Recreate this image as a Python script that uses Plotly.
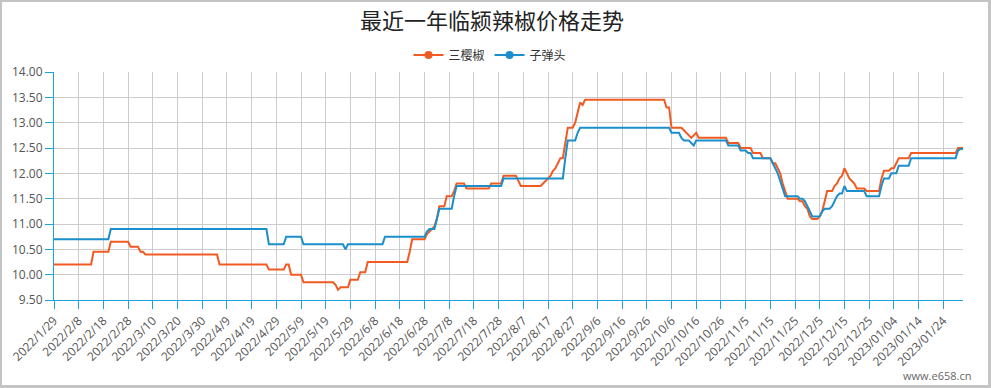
import datetime as dt
import plotly.graph_objects as go

# ---------------- data ----------------
title_text = "最近一年临颍辣椒价格走势"
series_names = ["三樱椒", "子弹头"]
series_colors = ["#F15A22", "#1A8FCB"]

start = dt.date(2022, 1, 29)
n_days = 369
dates = []
for i in range(n_days):
    d = start + dt.timedelta(days=i)
    if d.year == 2022:
        dates.append(f"{d.year}/{d.month}/{d.day}")
    else:
        dates.append(f"{d.year}/{d.month:02d}/{d.day:02d}")

sanyingjiao = [
    10.2, 10.2, 10.2, 10.2, 10.2, 10.2, 10.2, 10.2, 10.2, 10.2,           # 0-9
    10.2, 10.2, 10.2, 10.2, 10.2, 10.2,                                   # 10-15
    10.45, 10.45, 10.45, 10.45, 10.45, 10.45, 10.45,                      # 16-22
    10.65, 10.65, 10.65, 10.65, 10.65, 10.65, 10.65, 10.65,               # 23-30
    10.55, 10.55, 10.55, 10.55, 10.45, 10.45,                             # 31-36
    10.4, 10.4, 10.4, 10.4, 10.4, 10.4, 10.4, 10.4, 10.4, 10.4,           # 37-46
    10.4, 10.4, 10.4, 10.4, 10.4, 10.4, 10.4, 10.4, 10.4, 10.4,           # 47-56
    10.4, 10.4, 10.4, 10.4, 10.4, 10.4, 10.4, 10.4, 10.4, 10.4,           # 57-66
    10.2, 10.2, 10.2, 10.2, 10.2, 10.2, 10.2, 10.2, 10.2, 10.2,           # 67-76
    10.2, 10.2, 10.2, 10.2, 10.2, 10.2, 10.2, 10.2, 10.2, 10.2,           # 77-86
    10.1, 10.1, 10.1, 10.1, 10.1, 10.1, 10.1,                             # 87-93
    10.2, 10.2, 10.0, 10.0, 10.0, 10.0, 10.0,                             # 94-100
    9.85, 9.85, 9.85, 9.85, 9.85, 9.85, 9.85, 9.85, 9.85, 9.85,           # 101-110
    9.85, 9.85, 9.85,                                                     # 111-113
    9.8, 9.7, 9.75, 9.75, 9.75, 9.75,                                     # 114-119
    9.9, 9.9, 9.9, 9.9, 10.05, 10.05, 10.05,                              # 120-126
    10.25, 10.25, 10.25, 10.25, 10.25, 10.25, 10.25, 10.25, 10.25, 10.25, # 127-136
    10.25, 10.25, 10.25, 10.25, 10.25, 10.25, 10.25,                      # 137-143
    10.45, 10.7, 10.7, 10.7, 10.7, 10.7, 10.7,                            # 144-150
    10.8, 10.85, 10.9, 10.95, 11.1, 11.35, 11.35, 11.35,                  # 151-158
    11.55, 11.55, 11.55, 11.65, 11.8, 11.8, 11.8, 11.8,                   # 159-166
    11.7, 11.7, 11.7, 11.7, 11.7, 11.7, 11.7, 11.7, 11.7, 11.7,           # 167-176
    11.8, 11.8, 11.8, 11.8, 11.8,                                         # 177-181
    11.95, 11.95, 11.95, 11.95, 11.95, 11.95, 11.85,                      # 182-188
    11.75, 11.75, 11.75, 11.75, 11.75, 11.75, 11.75, 11.75, 11.75,        # 189-197
    11.8, 11.85, 11.9, 11.95, 12.05, 12.1, 12.2, 12.3, 12.3,              # 198-206
    12.6, 12.9, 12.9, 12.9, 13.0, 13.2, 13.4, 13.35,                      # 207-214
    13.45, 13.45, 13.45, 13.45, 13.45, 13.45, 13.45, 13.45, 13.45, 13.45, # 215-224
    13.45, 13.45, 13.45, 13.45, 13.45, 13.45, 13.45, 13.45, 13.45, 13.45, # 225-234
    13.45, 13.45, 13.45, 13.45, 13.45, 13.45, 13.45, 13.45, 13.45, 13.45, # 235-244
    13.45, 13.45, 13.45,                                                  # 245-247
    13.3, 13.3, 12.9, 12.9, 12.9, 12.9, 12.9,                             # 248-254
    12.85, 12.8, 12.75, 12.7, 12.75, 12.8,                                # 255-260
    12.7, 12.7, 12.7, 12.7, 12.7, 12.7, 12.7, 12.7, 12.7, 12.7,           # 261-270
    12.7, 12.7,                                                           # 271-272
    12.6, 12.6, 12.6, 12.6, 12.6,                                         # 273-277
    12.5, 12.5, 12.5, 12.5, 12.5,                                         # 278-282
    12.4, 12.4, 12.4, 12.4, 12.3, 12.3, 12.3, 12.3,                       # 283-290
    12.2, 12.2, 12.1, 12.0, 11.8, 11.65,                                  # 291-296
    11.5, 11.5, 11.5, 11.5, 11.5,                                         # 297-301
    11.45, 11.45, 11.35, 11.3, 11.15, 11.1, 11.1, 11.1,                   # 302-309
    11.15, 11.25, 11.45, 11.65, 11.65, 11.65,                             # 310-315
    11.75, 11.8, 11.9, 11.95, 12.1, 12.0, 11.9, 11.85, 11.8,              # 316-324
    11.7, 11.7, 11.7, 11.7,                                               # 325-328
    11.65, 11.65, 11.65, 11.65, 11.65, 11.65,                             # 329-334
    11.9, 12.05, 12.05, 12.05, 12.1, 12.1, 12.2,                          # 335-341
    12.3, 12.3, 12.3, 12.3, 12.3,                                         # 342-346
    12.4, 12.4, 12.4, 12.4, 12.4, 12.4, 12.4, 12.4, 12.4, 12.4,           # 347-356
    12.4, 12.4, 12.4, 12.4, 12.4, 12.4, 12.4, 12.4, 12.4,                 # 357-365
    12.5, 12.5, 12.5,                                                     # 366-368
]

zidantou = [
    10.7, 10.7, 10.7, 10.7, 10.7, 10.7, 10.7, 10.7, 10.7, 10.7,           # 0-9
    10.7, 10.7, 10.7, 10.7, 10.7, 10.7, 10.7, 10.7, 10.7, 10.7,           # 10-19
    10.7, 10.7, 10.7,                                                     # 20-22
    10.9, 10.9, 10.9, 10.9, 10.9, 10.9, 10.9, 10.9, 10.9, 10.9,           # 23-32
    10.9, 10.9, 10.9, 10.9, 10.9, 10.9, 10.9, 10.9, 10.9, 10.9,           # 33-42
    10.9, 10.9, 10.9, 10.9, 10.9, 10.9, 10.9, 10.9, 10.9, 10.9,           # 43-52
    10.9, 10.9, 10.9, 10.9, 10.9, 10.9, 10.9, 10.9, 10.9, 10.9,           # 53-62
    10.9, 10.9, 10.9, 10.9, 10.9, 10.9, 10.9, 10.9, 10.9, 10.9,           # 63-72
    10.9, 10.9, 10.9, 10.9, 10.9, 10.9, 10.9, 10.9, 10.9, 10.9,           # 73-82
    10.9, 10.9, 10.9, 10.9,                                               # 83-86
    10.6, 10.6, 10.6, 10.6, 10.6, 10.6, 10.6,                             # 87-93
    10.75, 10.75, 10.75, 10.75, 10.75, 10.75, 10.75,                      # 94-100
    10.6, 10.6, 10.6, 10.6, 10.6, 10.6, 10.6, 10.6, 10.6, 10.6,           # 101-110
    10.6, 10.6, 10.6, 10.6, 10.6, 10.6, 10.6,                             # 111-117
    10.5,                                                                 # 118
    10.6, 10.6, 10.6, 10.6, 10.6, 10.6, 10.6, 10.6, 10.6, 10.6,           # 119-128
    10.6, 10.6, 10.6, 10.6, 10.6,                                         # 129-133
    10.75, 10.75, 10.75, 10.75, 10.75, 10.75, 10.75, 10.75, 10.75, 10.75, # 134-143
    10.75, 10.75, 10.75, 10.75, 10.75, 10.75, 10.75,                      # 144-150
    10.85, 10.9, 10.9, 10.9, 11.1,                                        # 151-155
    11.3, 11.3, 11.3, 11.3, 11.3, 11.3, 11.55,                            # 156-162
    11.75, 11.75, 11.75, 11.75, 11.75, 11.75, 11.75, 11.75, 11.75, 11.75, # 163-172
    11.75, 11.75, 11.75, 11.75, 11.75, 11.75, 11.75, 11.75, 11.75,        # 173-181
    11.9, 11.9, 11.9, 11.9, 11.9, 11.9, 11.9, 11.9, 11.9, 11.9,           # 182-191
    11.9, 11.9, 11.9, 11.9, 11.9, 11.9, 11.9, 11.9, 11.9, 11.9,           # 192-201
    11.9, 11.9, 11.9, 11.9, 11.9,                                         # 202-206
    12.3, 12.65, 12.65, 12.65, 12.65, 12.8,                               # 207-212
    12.9, 12.9, 12.9, 12.9, 12.9, 12.9, 12.9, 12.9, 12.9, 12.9,           # 213-222
    12.9, 12.9, 12.9, 12.9, 12.9, 12.9, 12.9, 12.9, 12.9, 12.9,           # 223-232
    12.9, 12.9, 12.9, 12.9, 12.9, 12.9, 12.9, 12.9, 12.9, 12.9,           # 233-242
    12.9, 12.9, 12.9, 12.9, 12.9, 12.9, 12.9,                             # 243-249
    12.8, 12.8, 12.8, 12.8, 12.7, 12.65, 12.65, 12.65, 12.6, 12.55,       # 250-259
    12.65, 12.65, 12.65, 12.65, 12.65, 12.65, 12.65, 12.65, 12.65, 12.65, # 260-269
    12.65, 12.65, 12.65,                                                  # 270-272
    12.55, 12.55, 12.55, 12.55, 12.55,                                    # 273-277
    12.45, 12.45, 12.45, 12.4, 12.4,                                      # 278-282
    12.3, 12.3, 12.3, 12.3, 12.3, 12.3, 12.3, 12.3,                       # 283-290
    12.2, 12.1, 12.0, 11.85, 11.7,                                        # 291-295
    11.55, 11.55, 11.55, 11.55, 11.55, 11.55,                             # 296-301
    11.5, 11.5, 11.45, 11.35, 11.25,                                      # 302-306
    11.15, 11.15, 11.15, 11.15,                                           # 307-310
    11.25, 11.3, 11.3, 11.3, 11.35, 11.45, 11.55, 11.6, 11.6, 11.75,      # 311-320
    11.65, 11.65, 11.65, 11.65, 11.65, 11.65, 11.65, 11.65,               # 321-328
    11.55, 11.55, 11.55, 11.55, 11.55, 11.55,                             # 329-334
    11.75, 11.9, 11.9, 11.9, 12.0, 12.0, 12.0,                            # 335-341
    12.15, 12.15, 12.15, 12.15, 12.15,                                    # 342-346
    12.3, 12.3, 12.3, 12.3, 12.3, 12.3, 12.3, 12.3, 12.3, 12.3,           # 347-356
    12.3, 12.3, 12.3, 12.3, 12.3, 12.3, 12.3, 12.3, 12.3,                 # 357-365
    12.45, 12.48, 12.48,                                                  # 366-368
]

assert len(sanyingjiao) == n_days, len(sanyingjiao)
assert len(zidantou) == n_days, len(zidantou)

tick_labels = dates[::10]
watermark = "www.e658.cn"

# ---------------- layout geometry ----------------
W, H = 991, 388
L, R, T, B = 54, 28, 72, 88
pw, ph = W - L - R, H - T - B


def px_x(px):
    return (px - L) / pw


def px_y(py):
    return (H - B - py) / ph


axis_color = "#1BA3DE"
grid_color = "#CCCCCC"
label_color = "#555555"

fig = go.Figure()
for name, vals, col in zip(series_names, [sanyingjiao, zidantou], series_colors):
    fig.add_trace(go.Scatter(
        x=dates, y=vals, mode="lines", name=name, showlegend=False,
        line=dict(color=col, width=2), hoverinfo="x+y+name",
    ))
# legend entries (line with circle, like the original)
for name, col in zip(series_names, series_colors):
    fig.add_trace(go.Scatter(
        x=[None], y=[None], mode="lines+markers", name=name,
        line=dict(color=col, width=2), marker=dict(color=col, size=8),
    ))

border_col = "#C4C4C4"
shapes = [
    dict(type="rect", xref="paper", yref="paper", x0=px_x(0), x1=px_x(W), y0=px_y(0), y1=px_y(2),
         fillcolor=border_col, line=dict(width=0), layer="above"),
    dict(type="rect", xref="paper", yref="paper", x0=px_x(0), x1=px_x(W), y0=px_y(385), y1=px_y(H),
         fillcolor=border_col, line=dict(width=0), layer="above"),
    dict(type="rect", xref="paper", yref="paper", x0=px_x(0), x1=px_x(2), y0=px_y(0), y1=px_y(H),
         fillcolor=border_col, line=dict(width=0), layer="above"),
    dict(type="rect", xref="paper", yref="paper", x0=px_x(988), x1=px_x(W), y0=px_y(0), y1=px_y(H),
         fillcolor=border_col, line=dict(width=0), layer="above"),
]

fig.update_layout(
    width=W, height=H,
    margin=dict(l=L, r=R, t=T, b=B, autoexpand=False),
    paper_bgcolor="white", plot_bgcolor="white",
    title=dict(text=title_text, x=492 / W, xanchor="center", y=1 - 21 / H, yanchor="middle",
               font=dict(family="Noto Sans CJK SC", size=22, color="#222222")),
    legend=dict(orientation="h", x=px_x(490), xanchor="center", y=px_y(55), yanchor="middle",
                font=dict(family="Noto Sans CJK SC", size=12, color="#333333"),
                itemwidth=30, bgcolor="rgba(0,0,0,0)", traceorder="normal"),
    showlegend=True,
    shapes=shapes,
    annotations=[dict(text=watermark, xref="paper", yref="paper", x=px_x(973), xanchor="right",
                      y=px_y(375), yanchor="middle", showarrow=False,
                      font=dict(family="Open Sans", size=11, color="#666666"))],
    font=dict(family="Open Sans"),
)

fig.update_xaxes(
    type="category", range=[0, n_days - 1],
    tickmode="array", tickvals=tick_labels, ticktext=tick_labels,
    tickangle=-45, tickfont=dict(family="Open Sans", size=12, color=label_color),
    showgrid=True, gridcolor=grid_color, gridwidth=1,
    showline=True, linecolor=axis_color, linewidth=1,
    ticks="outside", ticklen=8, tickcolor=axis_color, tickwidth=1,
    zeroline=False, fixedrange=True,
)
fig.update_yaxes(
    range=[9.5, 14.0], dtick=0.5, tick0=9.5, tickformat=".2f",
    tickfont=dict(family="Open Sans", size=12, color=label_color),
    showgrid=True, gridcolor=grid_color, gridwidth=1,
    showline=True, linecolor=axis_color, linewidth=1,
    ticks="outside", ticklen=8, tickcolor=axis_color, tickwidth=1,
    zeroline=False, fixedrange=True,
)

fig.write_html(
    "out.html",
    config={"displayModeBar": False},
    post_script="document.body.style.margin='0';document.body.style.overflow='hidden';",
)
